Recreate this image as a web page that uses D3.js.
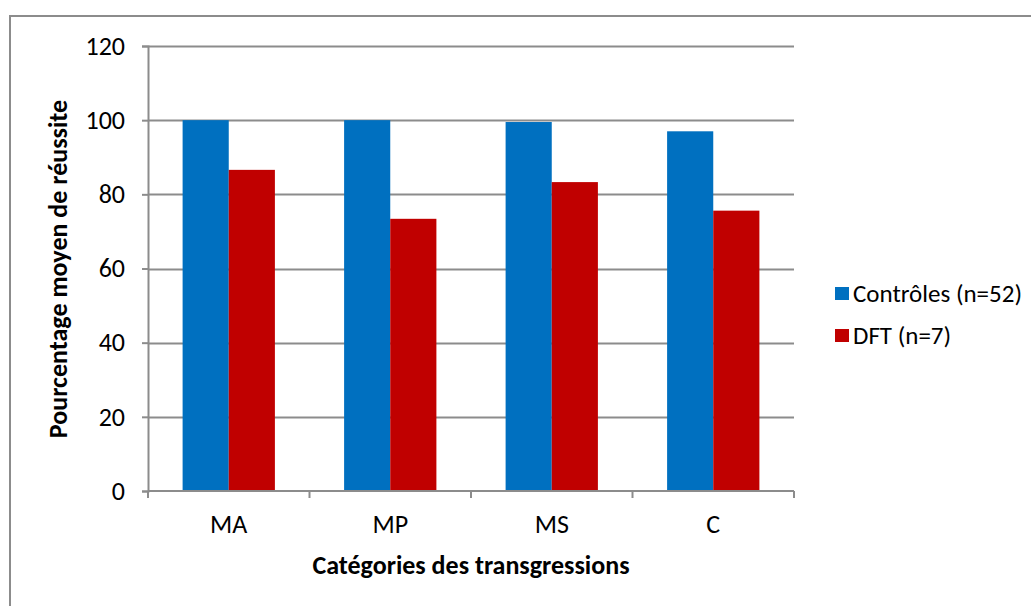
<!DOCTYPE html>
<html>
<head>
<meta charset="utf-8">
<script src="https://cdn.jsdelivr.net/npm/d3@7"></script>
<style>
  html, body { margin: 0; padding: 0; background: #fff; }
  svg { display: block; }
  text { font-family: Carlito, Calibri, Lato, sans-serif; fill: #000; }
</style>
</head>
<body>
<svg id="chart" width="1031" height="606"></svg>
<script>
const categories = ["MA", "MP", "MS", "C"];
const seriesNames = ["Contrôles (n=52)", "DFT (n=7)"];
const controles = [100, 100, 99.5, 97.0];
const dft = [86.6, 73.4, 83.3, 75.6];
const yTicks = [0, 20, 40, 60, 80, 100, 120];
const colors = ["#0070C0", "#C00000"];

const svg = d3.select("#chart");
const W = 1031, H = 606;
const plot = { left: 148, right: 794, top: 46, bottom: 491 };
const FONT = "Carlito, Calibri, Lato, sans-serif";

// outer chart border
svg.append("path")
  .attr("d", `M${W + 5},16 H10 V${H + 5}`)
  .attr("fill", "none").attr("stroke", "#8c8c8c").attr("stroke-width", 2);

const x = d3.scaleBand().domain(categories).range([plot.left, plot.right]).paddingInner(0).paddingOuter(0);
const y = d3.scaleLinear().domain([0, 120]).range([plot.bottom, plot.top]);

// gridlines
svg.append("g").selectAll("line").data(yTicks.filter(d => d > 0)).join("line")
  .attr("x1", plot.left).attr("x2", plot.right)
  .attr("y1", d => Math.round(y(d)) + 0.5).attr("y2", d => Math.round(y(d)) + 0.5)
  .attr("stroke", "#8c8c8c").attr("stroke-width", 2);

// bars
const bw = x.bandwidth() / 3.5; // gap width 150%
const series = [controles, dft];
series.forEach((vals, si) => {
  svg.append("g").selectAll("rect").data(categories).join("rect")
    .attr("x", (d) => x(d) + bw * 0.75 + si * bw)
    .attr("width", bw)
    .attr("y", (d, i) => y(vals[i]))
    .attr("height", (d, i) => y(0) - y(vals[i]))
    .attr("fill", colors[si]);
});

// y axis
const yAxis = d3.axisLeft(y).tickValues(yTicks).tickSize(6).tickPadding(17).tickFormat(d3.format("d"));
const gy = svg.append("g").attr("transform", `translate(${plot.left},0)`).call(yAxis);
gy.select(".domain").attr("stroke", "#8c8c8c").attr("stroke-width", 2);
gy.selectAll(".tick line").attr("stroke", "#8c8c8c").attr("stroke-width", 2);
gy.selectAll(".tick text").attr("font-size", 26).attr("font-family", FONT).attr("fill", "#000");

// x axis
const xAxis = d3.axisBottom(x).tickSize(0);
const gx = svg.append("g").attr("transform", `translate(0,${plot.bottom})`).call(xAxis);
gx.select(".domain").attr("stroke", "#8c8c8c").attr("stroke-width", 2).attr("d", `M${plot.left},0H${plot.right}`);
gx.selectAll(".tick text").attr("font-size", 26).attr("font-family", FONT).attr("fill", "#000")
  .attr("y", 42).attr("dy", 0);
// category boundary tick marks
const bounds = categories.map(c => x(c)).concat([x(categories[categories.length - 1]) + x.bandwidth()]);
gx.append("g").selectAll("line").data(bounds).join("line")
  .attr("x1", d => d).attr("x2", d => d).attr("y1", 0).attr("y2", 7)
  .attr("stroke", "#8c8c8c").attr("stroke-width", 2);

// axis titles
svg.append("text")
  .attr("x", (plot.left + plot.right) / 2).attr("y", 574)
  .attr("text-anchor", "middle").attr("font-size", 26).attr("font-weight", "bold")
  .text("Catégories des transgressions");
svg.append("text")
  .attr("transform", `translate(67,269) rotate(-90)`)
  .attr("text-anchor", "middle").attr("font-size", 26).attr("font-weight", "bold")
  .text("Pourcentage moyen de réussite");

// legend
const legend = svg.append("g");
seriesNames.forEach((name, i) => {
  const base = 302 + i * 42;
  legend.append("rect").attr("x", 835).attr("y", base - 15).attr("width", 14).attr("height", 13).attr("fill", colors[i]);
  legend.append("text").attr("x", 853).attr("y", base).attr("font-size", 25).text(name);
});
</script>
</body>
</html>
